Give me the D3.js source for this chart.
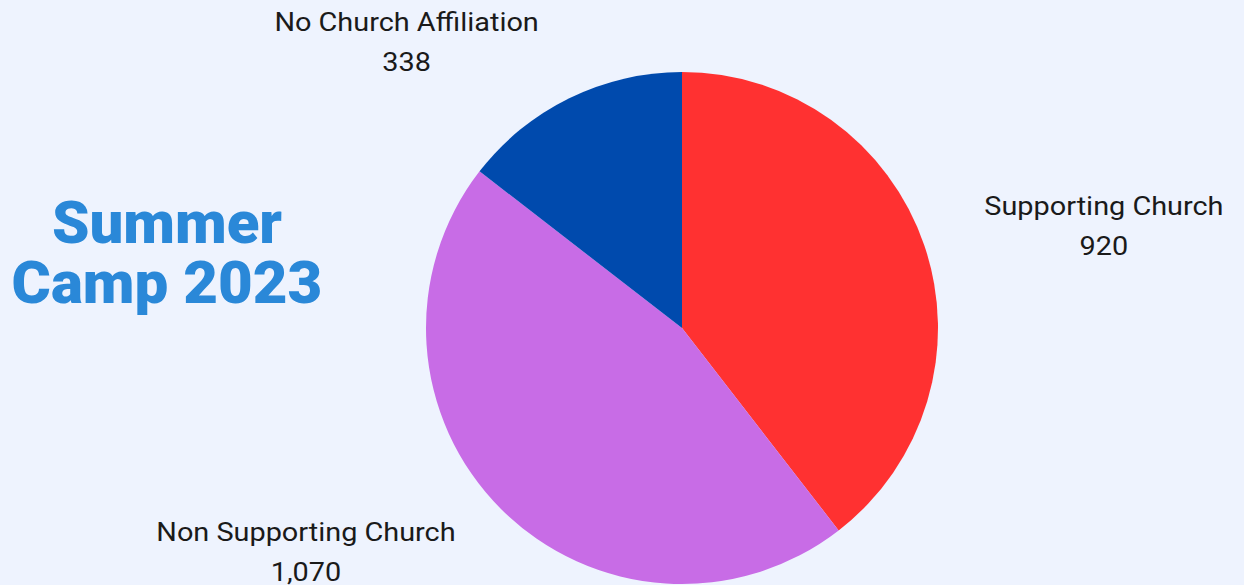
<!DOCTYPE html>
<html>
<head>
<meta charset="utf-8">
<script src="https://cdn.jsdelivr.net/npm/d3@7"></script>
<style>
  body { margin: 0; background: #eef3fe; }
  svg { display: block; }
</style>
</head>
<body>
<script>
// chart values
var categories = ["Supporting Church", "Non Supporting Church", "No Church Affiliation"];
var values = [920, 1070, 338];
var colors = ["#ff3131", "#c86ce6", "#004aad"];
var titleLines = ["Summer", "Camp 2023"];

var width = 1244, height = 585;
var cx = 682, cy = 328, radius = 256;

// label nudges from the outer centroid, per slice
var labelShift = [[15, 37], [-72, -80], [-86, 100]];

var svg = d3.select("body").append("svg")
  .attr("width", width)
  .attr("height", height);

svg.append("rect")
  .attr("width", width)
  .attr("height", height)
  .attr("fill", "#eef3fe");

var pie = d3.pie().sort(null).value(function(d){ return d; });
var arcs = pie(values);
var arc = d3.arc().innerRadius(0).outerRadius(radius);
var labelArc = d3.arc().innerRadius(430).outerRadius(430);

var g = svg.append("g").attr("transform", "translate(" + cx + "," + cy + ")");

g.selectAll("path")
  .data(arcs)
  .enter().append("path")
  .attr("d", arc)
  .attr("fill", function(d, i){ return colors[i]; });

var fmt = d3.format(",");
// reference text is a bit wide, so stretch it horizontally
var labels = g.selectAll("text.lbl")
  .data(arcs)
  .enter().append("text")
  .attr("class", "lbl")
  .attr("text-anchor", "middle")
  .style("font-family", "Roboto, sans-serif")
  .style("font-size", "26px")
  .attr("fill", "#1a1a1a")
  .attr("transform", function(d, i){
    var c = labelArc.centroid(d);
    return "translate(" + (c[0] + labelShift[i][0]) + "," + (c[1] + labelShift[i][1]) + ") scale(1.11,1)";
  });

labels.append("tspan")
  .attr("x", 0).attr("y", -11)
  .text(function(d, i){ return categories[i]; });
labels.append("tspan")
  .attr("x", 0).attr("y", 29)
  .text(function(d){ return fmt(d.value); });

svg.append("text")
  .attr("text-anchor", "middle")
  .attr("x", 167)
  .attr("y", 243)
  .style("font-family", "Roboto, sans-serif")
  .style("font-weight", 900)
  .style("font-size", "60px")
  .attr("fill", "#2a88d8")
  .selectAll("tspan")
  .data(titleLines)
  .enter().append("tspan")
  .attr("x", 167)
  .attr("dy", function(d, i){ return i ? 60 : 0; })
  .text(function(d){ return d; });
</script>
</body>
</html>
